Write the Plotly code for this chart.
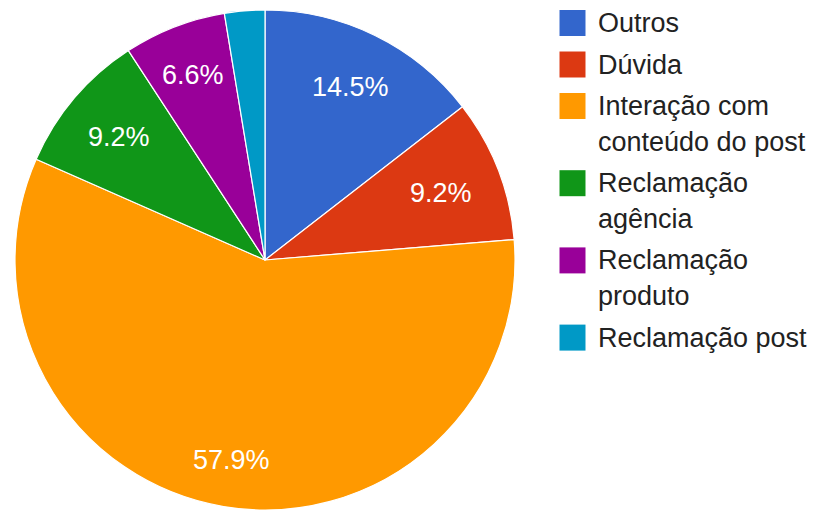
import math
import plotly.graph_objects as go

# Share of comments by category (percent)
categories = ["Outros", "Dúvida", "Interação com conteúdo do post",
              "Reclamação agência", "Reclamação produto", "Reclamação post"]
legend_lines = [["Outros"], ["Dúvida"], ["Interação com", "conteúdo do post"],
                ["Reclamação", "agência"], ["Reclamação", "produto"], ["Reclamação post"]]
shares = [14.5, 9.2, 57.9, 9.2, 6.6, 2.6]
colors = ["#3366cc", "#dc3912", "#ff9900", "#109618", "#990099", "#0099c6"]

W, H = 816, 510
CX, CY, R = 265, 260, 250         # pie centre and radius in pixels
FONT = "Liberation Sans, Arial, sans-serif"
FS = 27
LABEL_MIN = 5.0                   # smaller slices get no percentage label

fig = go.Figure()

fig.add_trace(go.Pie(
    labels=categories, values=shares, sort=False, direction="clockwise",
    rotation=0, textinfo="none", hoverinfo="label+percent",
    marker=dict(colors=colors, line=dict(color="white", width=1.2)),
    domain=dict(x=[(CX - R) / W, (CX + R) / W],
                y=[max(0, (H - CY - R) / H), (H - CY + R) / H]),
    showlegend=False,
))

annotations = []

# Percentage labels: placed along each slice's mid-angle so that the
# outer corner of the text box sits a fixed distance inside the rim.
total = sum(shares)
D = 249 * 0.888
start = 0.0
for v in shares:
    frac = v / total
    mid = (start + frac / 2) * 2 * math.pi
    start += frac
    if v < LABEL_MIN:
        continue
    txt = f"{v:.1f}%"
    tw = FS * sum(0.889 if ch == "%" else 0.278 if ch == "." else 0.556 for ch in txt)
    hw, hh = tw / 2, FS * 0.36
    s, c = abs(math.sin(mid)), abs(math.cos(mid))
    B = s * hw + c * hh
    r = -B + math.sqrt(B * B - (hw * hw + hh * hh - D * D))
    annotations.append(dict(
        x=CX + r * math.sin(mid), y=CY + 1 - r * math.cos(mid), xref="x", yref="y",
        text=txt, showarrow=False, xanchor="center", yanchor="middle",
        font=dict(family=FONT, size=FS, color="white"),
    ))

# Legend: square swatches with wrapped labels on the right
LINE_H, GAP = 35.7, 5.8
SW_X, TXT_X = 572.5, 596
sw_y = []
y = 23.0
for lines in legend_lines:
    sw_y.append(y)
    for j, line in enumerate(lines):
        annotations.append(dict(
            x=TXT_X, y=y + j * LINE_H, xref="x", yref="y", text=line,
            showarrow=False, xanchor="left", yanchor="middle",
            font=dict(family=FONT, size=FS, color="#222222"),
        ))
    y += len(lines) * LINE_H + GAP

fig.add_trace(go.Scatter(
    x=[SW_X] * len(categories), y=sw_y, mode="markers", hoverinfo="skip",
    marker=dict(symbol="square", size=26, color=colors, line=dict(width=0)),
    showlegend=False,
))

fig.update_layout(
    width=W, height=H, margin=dict(l=0, r=0, t=0, b=0),
    paper_bgcolor="white", plot_bgcolor="rgba(0,0,0,0)",
    xaxis=dict(range=[0, W], visible=False, fixedrange=True, domain=[0, 1]),
    yaxis=dict(range=[H, 0], visible=False, fixedrange=True, domain=[0, 1]),
    annotations=annotations,
)

fig.write_html("out.html")
